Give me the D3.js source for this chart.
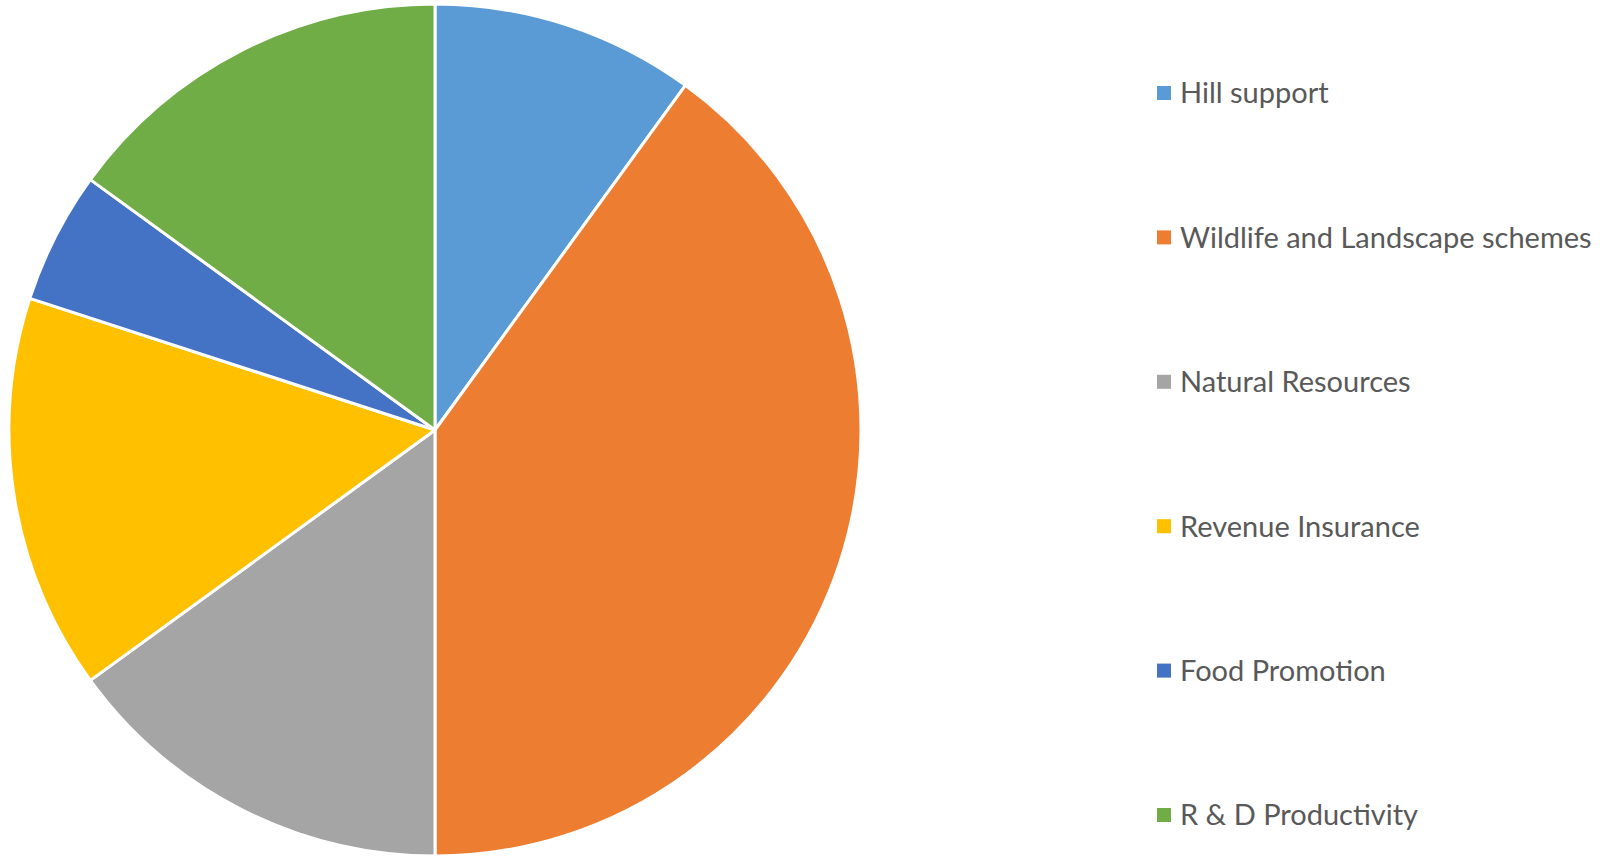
<!DOCTYPE html>
<html>
<head>
<meta charset="utf-8">
<script src="https://cdn.jsdelivr.net/npm/d3@7"></script>
<style>
  body { margin: 0; background: #fff; }
  text { font-family: Lato, "Open Sans", sans-serif; }
</style>
</head>
<body>
<div id="container"></div>
<script>
/**
 * DATA
 * */
const categories = [
  "Hill support",
  "Wildlife and Landscape schemes",
  "Natural Resources",
  "Revenue Insurance",
  "Food Promotion",
  "R & D Productivity",
];
const values = [10, 40, 15, 15, 5, 15];
const colors = ["#5B9BD5", "#ED7D31", "#A5A5A5", "#FFC000", "#4472C4", "#70AD47"];

/**
 * CONSTANTS
 * */
const width = 1600,
  height = 858,
  cx = 435,
  cy = 430,
  radius = 426;

const svg = d3
  .select("#container")
  .append("svg")
  .attr("width", width)
  .attr("height", height);

const data = categories.map((name, i) => ({ name, value: values[i] }));

const pie = d3.pie().sort(null).value((d) => d.value);
const arc = d3.arc().innerRadius(0).outerRadius(radius);
const color = d3.scaleOrdinal().domain(categories).range(colors);

// slices, clockwise from 12 o'clock
svg
  .append("g")
  .attr("transform", `translate(${cx},${cy})`)
  .selectAll("path")
  .data(pie(data))
  .join("path")
  .attr("d", arc)
  .attr("fill", (d) => color(d.data.name))
  .attr("stroke", "#fff")
  .attr("stroke-width", 3)
  .attr("stroke-linejoin", "round");

// legend
const legendY = d3.scalePoint().domain(categories).range([93, 815]);

const legend = svg
  .append("g")
  .selectAll("g")
  .data(categories)
  .join("g")
  .attr("transform", (d) => `translate(1157,${legendY(d)})`);

legend
  .append("rect")
  .attr("x", 0)
  .attr("y", -7)
  .attr("width", 14)
  .attr("height", 14)
  .attr("fill", (d) => color(d));

legend
  .append("text")
  .attr("x", 23)
  .attr("dy", "0.36em")
  .attr("fill", "#595959")
  .attr("font-size", 29)
  .text((d) => d);
</script>
</body>
</html>
